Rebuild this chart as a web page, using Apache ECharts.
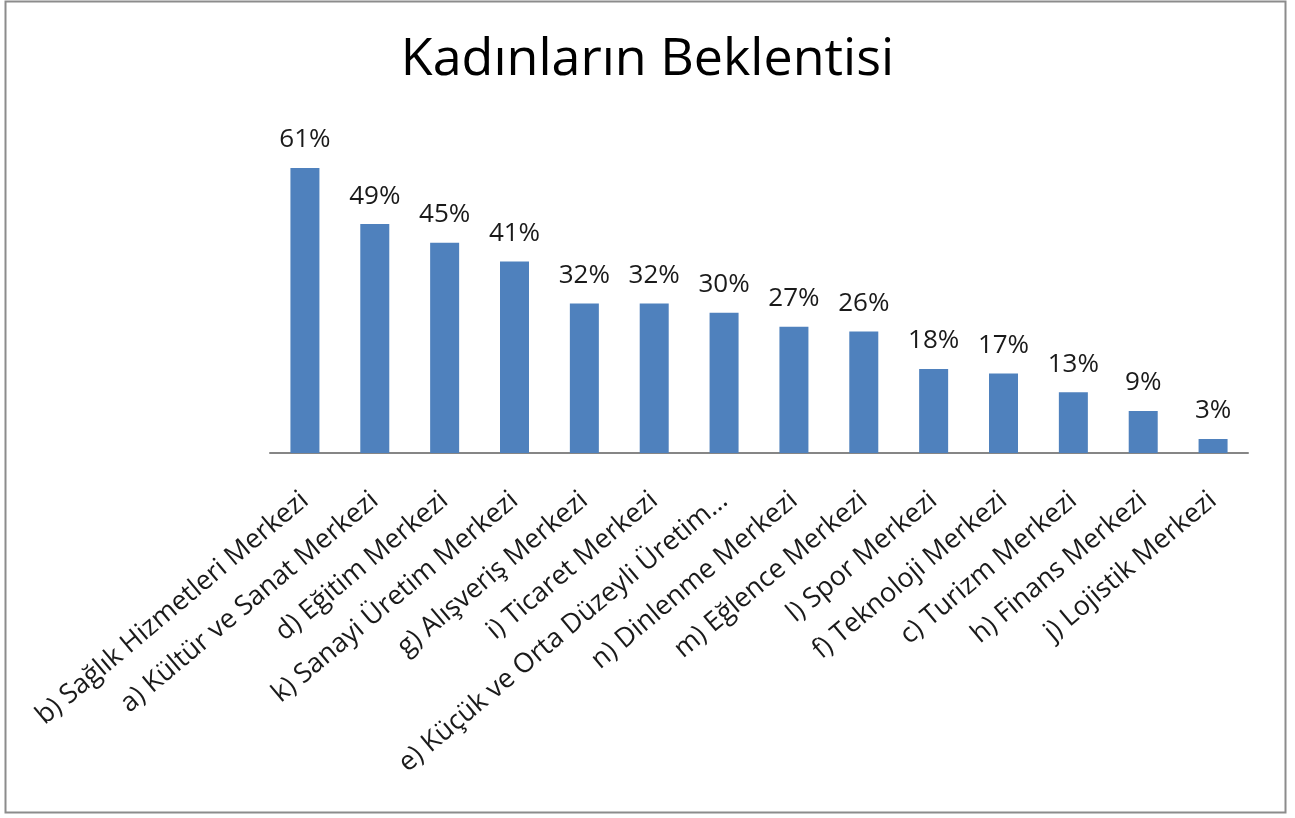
<!DOCTYPE html>
<html>
<head>
<meta charset="utf-8">
<title>Kadınların Beklentisi</title>
<script src="https://cdn.jsdelivr.net/npm/echarts@6/dist/echarts.min.js"></script>
<style>
  html, body { margin: 0; padding: 0; background: #fff; }
  #chart { width: 1295px; height: 818px; }
</style>
</head>
<body>
<div id="chart"></div>
<script>
// Categories in drawn order (highest share first)
const categories = [
  'b) Sağlık Hizmetleri Merkezi',
  'a) Kültür ve Sanat Merkezi',
  'd) Eğitim Merkezi',
  'k) Sanayi Üretim Merkezi',
  'g) Alışveriş Merkezi',
  'i) Ticaret Merkezi',
  'e) Küçük ve Orta Düzeyli Üretim…',
  'n) Dinlenme Merkezi',
  'm) Eğlence Merkezi',
  'l) Spor Merkezi',
  'f) Teknoloji Merkezi',
  'c) Turizm Merkezi',
  'h) Finans Merkezi',
  'j) Lojistik Merkezi'
];
// Share of women expecting each centre (fraction)
const shares = [0.61, 0.49, 0.45, 0.41, 0.32, 0.32, 0.30, 0.27, 0.26, 0.18, 0.17, 0.13, 0.09, 0.03];
const titleText = 'Kadınların Beklentisi';

const FONT = '"Open Sans", Lato, sans-serif';
const chart = echarts.init(document.getElementById('chart'));

chart.setOption({
  backgroundColor: '#ffffff',
  animation: false,
  title: {
    text: titleText,
    left: 'center',
    top: 29,
    textStyle: { fontFamily: FONT, fontSize: 52, fontWeight: 'normal', color: '#000' }
  },
  graphic: [{
    type: 'rect',
    shape: { x: 5.5, y: 1.5, width: 1280, height: 811 },
    style: { fill: 'none', stroke: '#8c8c8c', lineWidth: 2 },
    silent: true
  }],
  grid: { left: 270, right: 47, top: 126, bottom: 365, containLabel: false },
  xAxis: {
    type: 'category',
    data: categories,
    axisLine: { show: true, lineStyle: { color: '#868686', width: 2 } },
    axisTick: { show: false },
    axisLabel: {
      interval: 0,
      rotate: 40,
      margin: 44,
      fontFamily: FONT,
      fontSize: 27,
      color: '#1a1a1a'
    }
  },
  yAxis: {
    type: 'value',
    min: 0,
    max: 0.7,
    show: false,
    splitLine: { show: false }
  },
  series: [{
    type: 'bar',
    data: shares,
    barWidth: 29,
    itemStyle: { color: '#4f81bd' },
    label: {
      show: true,
      position: 'top',
      distance: 15,
      fontFamily: FONT,
      fontSize: 26,
      color: '#1a1a1a',
      formatter: p => Math.round(p.value * 100) + '%'
    }
  }]
});
</script>
</body>
</html>
